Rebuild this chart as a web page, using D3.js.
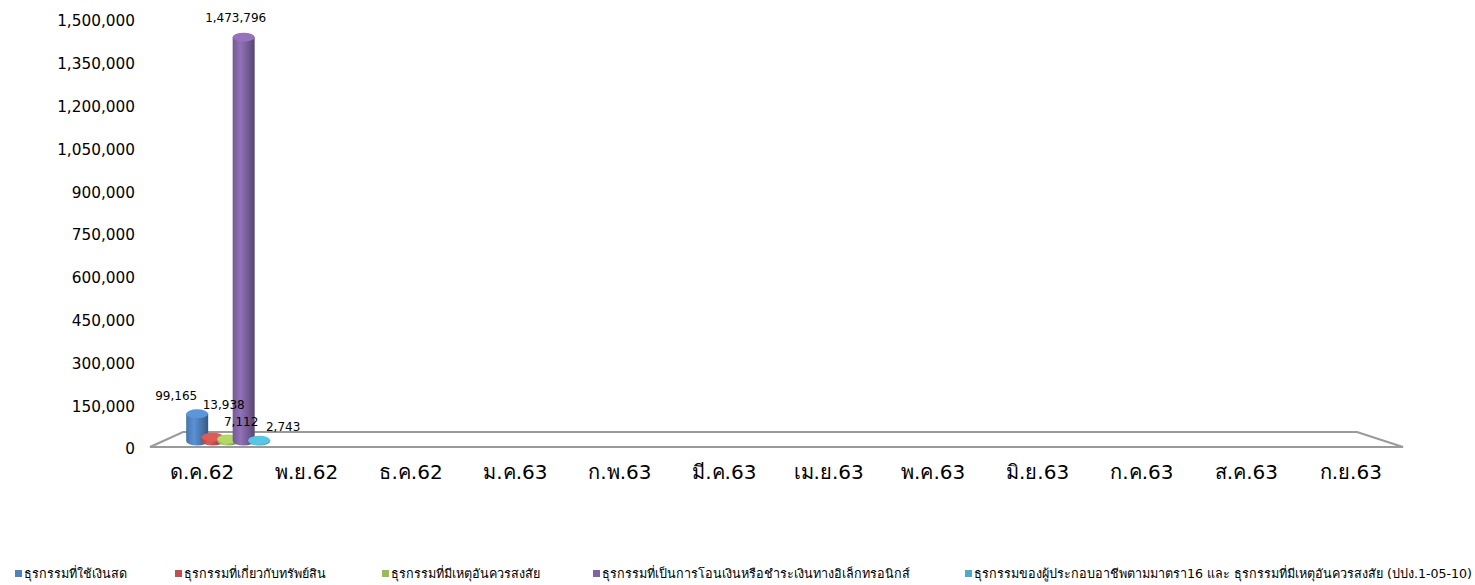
<!DOCTYPE html>
<html>
<head>
<meta charset="utf-8">
<script src="https://cdn.jsdelivr.net/npm/d3@7"></script>
<style>
  body { margin: 0; background: #fff; }
  text { font-family: Tahoma, "DejaVu Sans", "Noto Sans", sans-serif; fill: #000; }
</style>
</head>
<body>
<script>
var width = 1475,
    height = 585;

// data
var months = ["ด.ค.62", "พ.ย.62", "ธ.ค.62", "ม.ค.63", "ก.พ.63", "มี.ค.63",
              "เม.ย.63", "พ.ค.63", "มิ.ย.63", "ก.ค.63", "ส.ค.63", "ก.ย.63"];
var seriesNames = [
  "ธุรกรรมที่ใช้เงินสด",
  "ธุรกรรมที่เกี่ยวกับทรัพย์สิน",
  "ธุรกรรมที่มีเหตุอันควรสงสัย",
  "ธุรกรรมที่เป็นการโอนเงินหรือชำระเงินทางอิเล็กทรอนิกส์",
  "ธุรกรรมของผู้ประกอบอาชีพตามมาตรา16  และ ธุรกรรมที่มีเหตุอันควรสงสัย (ปปง.1-05-10)"
];
var cashValues     = [99165, null, null, null, null, null, null, null, null, null, null, null];
var assetValues    = [13938, null, null, null, null, null, null, null, null, null, null, null];
var suspectValues  = [7112, null, null, null, null, null, null, null, null, null, null, null];
var transferValues = [1473796, null, null, null, null, null, null, null, null, null, null, null];
var section16Values = [2743, null, null, null, null, null, null, null, null, null, null, null];
var yTicks = [0, 150000, 300000, 450000, 600000, 750000, 900000, 1050000, 1200000, 1350000, 1500000];

// styles
var colors = ["#4F81BD", "#C0504D", "#9BBB59", "#8064A2", "#4BACC6"];
var labelOffsets = [[-21, -18], [11, -32], [13, -17], [-8, -19], [24, -13]];
var legendX = [15, 175, 382, 593, 965];

var allSeries = [cashValues, assetValues, suspectValues, transferValues, section16Values];

var svg = d3.select("body").append("svg")
    .attr("width", width)
    .attr("height", height);

var defs = svg.append("defs");
colors.forEach(function(c, i) {
  var base = d3.color(c);
  var g = defs.append("linearGradient").attr("id", "cyl" + i);
  g.append("stop").attr("offset", 0).attr("stop-color", base.darker(0.3));
  g.append("stop").attr("offset", 0.35).attr("stop-color", base.brighter(0.35));
  g.append("stop").attr("offset", 0.8).attr("stop-color", base.darker(0.5));
  g.append("stop").attr("offset", 1).attr("stop-color", base.darker(1.1));
});

// axis scale (labels) and bar scale (back plane, slightly shorter)
var y = d3.scaleLinear().domain([0, 1500000]).range([449, 21]);
var yBar = d3.scaleLinear().domain([0, 1500000]).range([441, 30]);

var xFront = d3.scaleBand().domain(months).range([150, 1403]);
var xBack = d3.scaleBand().domain(months).range([183, 1357]);
var xMid = d3.scaleBand().domain(months).range([178, 1382]);
var xSeries = d3.scalePoint().domain(d3.range(5)).range([-31, 31]);

// floor
var floorY = [447, 432];
svg.append("path")
    .attr("d", "M" + xFront.range()[0] + "," + floorY[0] +
               "L" + xFront.range()[1] + "," + floorY[0] +
               "L" + xBack.range()[1] + "," + floorY[1] +
               "L" + xBack.range()[0] + "," + floorY[1] + "Z")
    .attr("fill", "#fff")
    .attr("stroke", "#9a9a9a")
    .attr("stroke-width", 2.2);

// y axis labels
svg.append("g").selectAll("text")
    .data(yTicks)
    .enter().append("text")
    .attr("x", 135)
    .attr("y", function(d) { return y(d); })
    .attr("dy", "0.35em")
    .attr("text-anchor", "end")
    .style("font-size", "15.3px")
    .text(d3.format(","));

// category labels
svg.append("g").selectAll("text")
    .data(months)
    .enter().append("text")
    .attr("x", function(d) { return xFront(d) + xFront.bandwidth() / 2; })
    .attr("y", 472)
    .attr("dy", "0.35em")
    .attr("text-anchor", "middle")
    .style("font-size", "20px")
    .text(function(d) { return d; });

// cylinders
var bw = 22, ry = 4.5;
var points = [];
allSeries.forEach(function(vals, si) {
  vals.forEach(function(v, mi) {
    if (v != null) points.push({ s: si, m: months[mi], v: v });
  });
});

function cx(d) { return xMid(d.m) + xMid.bandwidth() / 2 + xSeries(d.s); }

var bars = svg.append("g").selectAll("g")
    .data(points)
    .enter().append("g")
    .attr("transform", function(d) { return "translate(" + cx(d) + ",0)"; });

bars.append("path")
    .attr("d", function(d) {
      var top = yBar(d.v), bot = yBar(0), r = bw / 2;
      return "M" + (-r) + "," + top +
             "L" + (-r) + "," + bot +
             "A" + r + "," + ry + " 0 0 0 " + r + "," + bot +
             "L" + r + "," + top + "Z";
    })
    .attr("fill", function(d) { return "url(#cyl" + d.s + ")"; });

bars.append("ellipse")
    .attr("cx", 0)
    .attr("cy", function(d) { return yBar(d.v); })
    .attr("rx", bw / 2)
    .attr("ry", ry)
    .attr("fill", function(d) { return d3.color(colors[d.s]).brighter(0.4); });

// value labels (on top of all bars)
svg.append("g").selectAll("text")
    .data(points)
    .enter().append("text")
    .attr("x", function(d) { return cx(d) + labelOffsets[d.s][0]; })
    .attr("y", function(d) { return yBar(d.v) + labelOffsets[d.s][1]; })
    .attr("dy", "0.35em")
    .attr("text-anchor", "middle")
    .style("font-size", "12px")
    .text(function(d) { return d3.format(",")(d.v); });

// legend
var legend = svg.append("g").selectAll("g")
    .data(seriesNames)
    .enter().append("g")
    .attr("transform", function(d, i) { return "translate(" + legendX[i] + ",574)"; });

legend.append("rect")
    .attr("x", 0)
    .attr("y", -4)
    .attr("width", 7)
    .attr("height", 7)
    .attr("fill", function(d, i) { return colors[i]; });

legend.append("text")
    .attr("x", 9)
    .attr("dy", "0.35em")
    .style("font-size", "12.6px")
    .text(function(d) { return d; });
</script>
</body>
</html>
